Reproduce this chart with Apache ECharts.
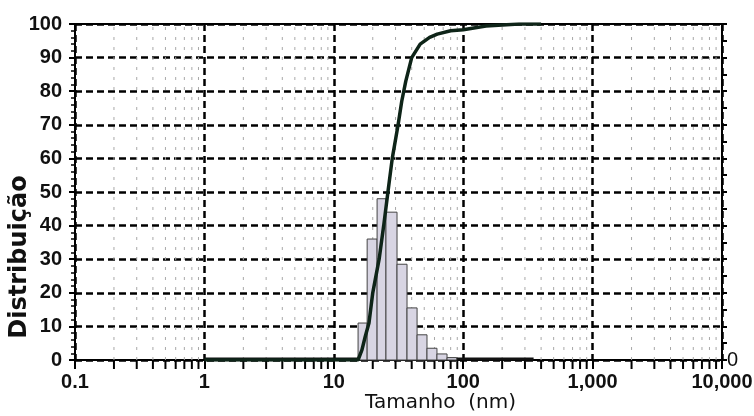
<!DOCTYPE html>
<html>
<head>
<meta charset="utf-8">
<script src="https://cdn.jsdelivr.net/npm/echarts@6/dist/echarts.min.js"></script>
<style>
  html, body { margin: 0; padding: 0; background: #fff; }
  #chart { width: 754px; height: 416px; }
</style>
</head>
<body>
<div id="chart"></div>
<script>
// histogram bins (nm) and heights (%)
const binLow = [15.4, 18.1, 21.6, 25.3, 30.8, 36.8, 44, 52.5, 62.7, 75]
const binHigh = [18.1, 21.6, 25.3, 30.8, 36.8, 44, 52.5, 62.7, 75, 89]
const binValue = [11, 36, 48, 44, 28.5, 15.5, 7.5, 3.5, 1.8, 0.7]

// empty part of the histogram (zero baseline)
const baseSize = [1, 350]
const baseValue = [0.3, 0.3]

// cumulative distribution
const cumSize = [1, 15.4, 16.5, 17.5, 18.7, 20, 22.4, 24.3, 26.2, 28.3, 31.4, 33.5, 36, 40, 46.5, 55, 63, 80, 100, 150, 270, 400]
const cumValue = [0, 0, 3, 7, 11, 20, 30, 40, 50, 60, 70, 77, 83, 90, 94, 96, 97, 98, 98.3, 99.4, 100, 100]

// minor ticks on the log axis
const minorTicks = [
  0.2, 0.3, 0.4, 0.5, 0.6, 0.7, 0.8, 0.9,
  2, 3, 4, 5, 6, 7, 8, 9,
  20, 30, 40, 50, 60, 70, 80, 90,
  200, 300, 400, 500, 600, 700, 800, 900,
  2000, 3000, 4000, 5000, 6000, 7000, 8000, 9000
]

const LABEL = { fontFamily: 'Liberation Sans', fontWeight: 'bold', fontSize: 20, color: '#111' }
const DASH = { color: '#000', width: 2.5, type: [7, 4] }

const chart = echarts.init(document.getElementById('chart'))

const option = {
  animation: false,
  grid: {
    left: 75,
    right: 32,
    top: 24,
    bottom: 56,
    containLabel: false,
    outerBoundsMode: 'none',
    show: true,
    borderColor: '#000',
    borderWidth: 2,
  },
  xAxis: {
    type: 'log',
    logBase: 10,
    min: 0.1,
    max: 10000,
    name: 'Tamanho  (nm)',
    nameLocation: 'middle',
    nameMoveOverlap: false,
    nameGap: 33,
    nameTextStyle: {
      fontFamily: 'DejaVu Sans',
      fontSize: 20,
      color: '#111',
      padding: [0, 0, 0, 84],
    },
    axisLine: { lineStyle: { color: '#000', width: 2 } },
    axisTick: { show: true, length: 9, lineStyle: { color: '#000', width: 2 } },
    axisLabel: {
      ...LABEL,
      margin: 12,
      formatter: (v) => (v < 1 ? String(v) : Number(v).toLocaleString('en-US')),
    },
    splitLine: { show: true, lineStyle: DASH },
  },
  yAxis: [
    {
      type: 'value',
      min: 0,
      max: 100,
      interval: 10,
      name: 'Distribuição',
      nameLocation: 'middle',
      nameMoveOverlap: false,
      nameGap: 43,
      nameTextStyle: {
        fontFamily: 'DejaVu Sans',
        fontWeight: 'bold',
        fontSize: 24,
        color: '#111',
        padding: [0, 0, 0, -130],
      },
      axisLine: { show: true, lineStyle: { color: '#000', width: 2 } },
      axisTick: { show: true, length: 6, lineStyle: { color: '#000', width: 2 } },
      minorTick: { show: true, splitNumber: 5, length: 4, lineStyle: { color: '#000', width: 1.5 } },
      axisLabel: { ...LABEL, margin: 13 },
      splitLine: { show: true, lineStyle: DASH },
    },
    {
      type: 'value',
      min: 0,
      max: 100,
      interval: 5,
      position: 'right',
      axisLine: { show: true, lineStyle: { color: '#000', width: 2 } },
      axisTick: { show: true, length: 5, lineStyle: { color: '#000', width: 2 } },
      axisLabel: {
        ...LABEL,
        fontWeight: 'normal',
        margin: 5,
        formatter: (v) => (v === 0 ? '0' : ''),
      },
      splitLine: { show: false },
    },
  ],
  series: [
    // minor grid + ticks
    {
      type: 'custom',
      z: 1,
      clip: false,
      silent: true,
      data: minorTicks.map((v) => [v]),
      encode: { x: 0 },
      renderItem: (params, api) => {
        const x = api.coord([api.value(0), 0])[0]
        const top = params.coordSys.y
        const bottom = top + params.coordSys.height
        return {
          type: 'group',
          children: [
            {
              type: 'line',
              shape: { x1: x, y1: top + 3, x2: x, y2: bottom },
              style: { stroke: '#a8a8a8', lineWidth: 1, lineDash: [3, 7] },
            },
            {
              type: 'line',
              shape: { x1: x, y1: bottom, x2: x, y2: bottom + 9 },
              style: { stroke: '#000', lineWidth: 2 },
            },
          ],
        }
      },
    },
    {
      type: 'line',
      z: 2,
      symbol: 'none',
      data: baseSize.map((s, i) => [s, baseValue[i]]),
      lineStyle: { color: '#111', width: 3 },
    },
    {
      type: 'custom',
      z: 3,
      data: binLow.map((lo, i) => [lo, binHigh[i], binValue[i]]),
      encode: { x: [0, 1], y: 2 },
      renderItem: (params, api) => {
        const p0 = api.coord([api.value(0), api.value(2)])
        const p1 = api.coord([api.value(1), 0])
        return {
          type: 'rect',
          shape: { x: p0[0], y: p0[1], width: p1[0] - p0[0], height: p1[1] - p0[1] },
          style: { fill: '#d8d5e3', stroke: '#444', lineWidth: 1 },
        }
      },
    },
    {
      type: 'line',
      z: 4,
      symbol: 'none',
      data: cumSize.map((s, i) => [s, cumValue[i]]),
      lineStyle: { color: '#0e2418', width: 3.5 },
    },
  ],
}

chart.setOption(option)
</script>
</body>
</html>
